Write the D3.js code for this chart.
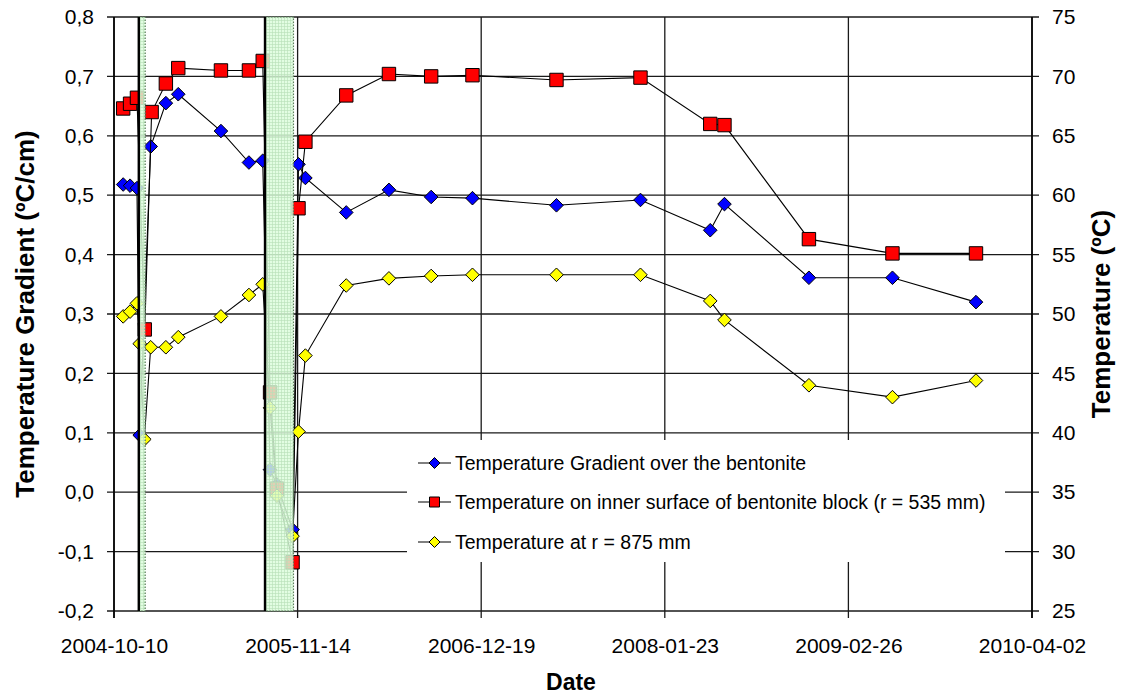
<!DOCTYPE html>
<html><head><meta charset="utf-8">
<script src="https://cdn.jsdelivr.net/npm/d3@7"></script>
<style>
html,body{margin:0;padding:0;background:#fff;}
text{font-family:"Liberation Sans",Arial,sans-serif;}
</style></head>
<body><svg id="chart" width="1121" height="700"></svg>
<script>
// ---------------- data ----------------
const xTickDates = ["2004-10-10","2005-11-14","2006-12-19","2008-01-23","2009-02-26","2010-04-02"];
const leftTicks = [-0.2,-0.1,0.0,0.1,0.2,0.3,0.4,0.5,0.6,0.7,0.8];
const rightTicks = [25,30,35,40,45,50,55,60,65,70,75];

const gradDates = ["2004-10-30","2004-11-14","2004-11-29","2004-12-05","2004-12-29","2005-01-31","2005-02-27","2005-05-31","2005-07-31","2005-08-30","2005-09-15","2005-09-30","2005-11-03","2005-11-16","2005-12-01","2006-02-28","2006-06-01","2006-09-01","2006-11-30","2007-06-01","2007-12-01","2008-05-01","2008-06-01","2008-12-02","2009-06-02","2009-12-01"];
const gradValues = [0.518,0.516,0.512,0.096,0.582,0.655,0.670,0.608,0.555,0.558,0.038,0.013,-0.063,0.552,0.529,0.471,0.509,0.497,0.495,0.483,0.492,0.441,0.485,0.361,0.361,0.320];

const innerDates = ["2004-10-30","2004-11-14","2004-11-29","2004-12-16","2004-12-31","2005-01-31","2005-02-27","2005-05-31","2005-07-31","2005-08-30","2005-09-15","2005-09-30","2005-11-03","2005-11-16","2005-12-01","2006-02-28","2006-06-01","2006-09-01","2006-11-30","2007-06-01","2007-12-01","2008-05-01","2008-06-01","2008-12-02","2009-06-02","2009-12-01"];
const innerValues = [67.3,67.7,68.2,48.7,67.0,69.4,70.7,70.5,70.5,71.3,43.4,35.3,29.1,58.9,64.5,68.4,70.2,70.0,70.1,69.7,69.9,66.0,65.9,56.3,55.1,55.1];

const outerDates = ["2004-10-30","2004-11-14","2004-11-29","2004-12-05","2004-12-15","2004-12-29","2005-01-31","2005-02-27","2005-05-31","2005-07-31","2005-08-30","2005-09-15","2005-09-30","2005-11-03","2005-11-16","2005-12-01","2006-02-28","2006-06-01","2006-09-01","2006-11-30","2007-06-01","2007-12-01","2008-05-01","2008-06-01","2008-12-02","2009-06-02","2009-12-01"];
const outerValues = [49.8,50.2,50.9,47.5,39.45,47.2,47.2,48.05,49.8,51.6,52.5,42.1,34.7,31.3,40.1,46.5,52.4,53.0,53.2,53.3,53.3,53.3,51.1,49.5,44.0,43.0,44.4];

const bandStarts = ["2004-12-03","2005-09-04"];
const bandEnds   = ["2004-12-17","2005-11-05"];

const seriesNames = ["Temperature Gradient over the bentonite",
  "Temperature on inner surface of bentonite block (r = 535 mm)",
  "Temperature at r = 875 mm"];

// ---------------- setup ----------------
const parse = d3.utcParse("%Y-%m-%d");
const svg = d3.select("#chart");
const L = 114, R = 1032, T = 17, B = 611;

const x = d3.scaleUtc().domain([parse(xTickDates[0]), parse(xTickDates[xTickDates.length-1])]).range([L, R]);
const yL = d3.scaleLinear().domain([-0.2, 0.8]).range([B, T]);
const yR = d3.scaleLinear().domain([25, 75]).range([B, T]);

const fmtL = v => d3.format(".1f")(v).replace(".", ",").replace("−","-");

// gridlines
const grid = svg.append("g");
grid.selectAll("line.h").data(leftTicks).join("line")
  .attr("x1", L - 7).attr("x2", R + 7)
  .attr("y1", d => yL(d)).attr("y2", d => yL(d))
  .attr("stroke", "#1a1a1a").attr("stroke-width", 1.3);
grid.selectAll("line.v").data(xTickDates).join("line")
  .attr("x1", d => x(parse(d))).attr("x2", d => x(parse(d)))
  .attr("y1", T).attr("y2", B + 7)
  .attr("stroke", "#1a1a1a").attr("stroke-width", 1.3);

// axes lines
svg.append("line").attr("x1", L).attr("x2", L).attr("y1", T).attr("y2", B + 7).attr("stroke", "#000").attr("stroke-width", 1.6);
svg.append("line").attr("x1", R).attr("x2", R).attr("y1", T).attr("y2", B + 7).attr("stroke", "#000").attr("stroke-width", 1.6);

// tick labels
const gAxL = svg.append("g").attr("transform", `translate(${L},0)`);
gAxL.call(d3.axisLeft(yL).tickValues(leftTicks).tickFormat(fmtL).tickSize(0).tickPadding(20));
const gAxR = svg.append("g").attr("transform", `translate(${R},0)`);
gAxR.call(d3.axisRight(yR).tickValues(rightTicks).tickFormat(d3.format("d")).tickSize(0).tickPadding(20));
const gAxB = svg.append("g").attr("transform", `translate(0,${B})`);
gAxB.call(d3.axisBottom(x).tickValues(xTickDates.map(parse)).tickFormat(d3.utcFormat("%Y-%m-%d")).tickSize(0).tickPadding(27));
[gAxL, gAxR, gAxB].forEach(g => {
  g.select(".domain").remove();
  g.selectAll("text").attr("font-size", 21).attr("fill", "#000").attr("font-family", "Liberation Sans, Arial, sans-serif");
});

// axis titles
svg.append("text").attr("transform", `translate(34,${(T+B)/2}) rotate(-90)`)
  .attr("text-anchor", "middle").attr("font-weight", "bold").attr("font-size", 26).text("Temperature Gradient (ºC/cm)");
svg.append("text").attr("transform", `translate(1110,${(T+B)/2}) rotate(-90)`)
  .attr("text-anchor", "middle").attr("font-weight", "bold").attr("font-size", 26).text("Temperature (ºC)");
svg.append("text").attr("x", (L+R)/2 - 2).attr("y", 690)
  .attr("text-anchor", "middle").attr("font-weight", "bold").attr("font-size", 23).text("Date");

// series
const series = [
  {dates: gradDates, values: gradValues, y: yL, color: "#0000ff", shape: "diamond"},
  {dates: innerDates, values: innerValues, y: yR, color: "#ff0000", shape: "square"},
  {dates: outerDates, values: outerValues, y: yR, color: "#ffff00", shape: "diamond"}
];

function markerPath(shape, s) {
  if (shape === "diamond") return `M0,${-s}L${s},0L0,${s}L${-s},0Z`;
  return `M${-s},${-s}H${s}V${s}H${-s}Z`;
}

series.forEach(s => {
  const pts = s.dates.map((d, i) => [x(parse(d)), s.y(s.values[i])]);
  svg.append("path").attr("d", d3.line()(pts)).attr("fill", "none").attr("stroke", "#000").attr("stroke-width", 1.1);
  svg.append("g").selectAll("path").data(pts).join("path")
    .attr("transform", d => `translate(${d[0]},${d[1]})`)
    .attr("d", markerPath(s.shape, s.shape === "diamond" ? 6.8 : 6.7))
    .attr("fill", s.color).attr("stroke", "#000").attr("stroke-width", 1);
});

// bands (drawn on top, semi transparent)
const defs = svg.append("defs");
const pat = defs.append("pattern").attr("id", "bandPat").attr("width", 3).attr("height", 3).attr("patternUnits", "userSpaceOnUse");
pat.append("rect").attr("width", 3).attr("height", 3).attr("fill", "#dcfcdc").attr("opacity", 0.82);
pat.append("rect").attr("x", 2).attr("width", 1).attr("height", 3).attr("fill", "#b8e0b8").attr("opacity", 0.6);
pat.append("rect").attr("y", 2).attr("width", 3).attr("height", 1).attr("fill", "#b8e0b8").attr("opacity", 0.6);

bandStarts.forEach((st, i) => {
  const x0 = x(parse(st)), x1 = x(parse(bandEnds[i]));
  svg.append("rect").attr("x", x0).attr("y", T).attr("width", x1 - x0).attr("height", B - T)
    .attr("fill", "url(#bandPat)").attr("stroke", "#5c7f5c").attr("stroke-width", 1.2).attr("stroke-dasharray", "1.5,1.5");
  svg.append("line").attr("x1", x0).attr("x2", x0).attr("y1", T).attr("y2", B)
    .attr("stroke", "#000").attr("stroke-width", 2.4);
});

// legend
const lg = svg.append("g");
lg.append("rect").attr("x", 407).attr("y", 440).attr("width", 598).attr("height", 122).attr("fill", "#fff");
const rowsY = [463, 502, 542];
series.forEach((s, i) => {
  const yy = rowsY[i];
  lg.append("line").attr("x1", 418).attr("x2", 451).attr("y1", yy).attr("y2", yy).attr("stroke", "#000").attr("stroke-width", 1.1);
  lg.append("path").attr("transform", `translate(434.5,${yy})`).attr("d", markerPath(s.shape, s.shape === "diamond" ? 5.5 : 5))
    .attr("fill", s.color).attr("stroke", "#000").attr("stroke-width", 1);
  lg.append("text").attr("x", 455).attr("y", yy).attr("dy", "0.35em").attr("font-size", 19.5).text(seriesNames[i]);
});
</script></body></html>
